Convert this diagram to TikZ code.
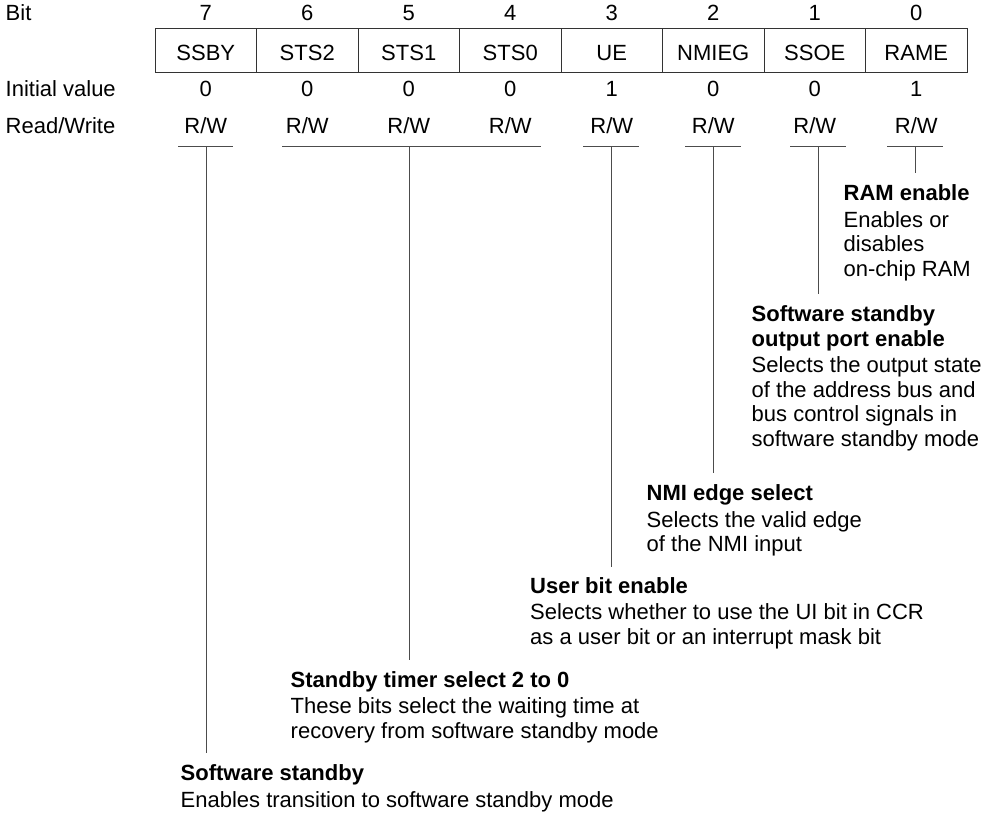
\documentclass[tikz,border=0pt]{standalone}
\usepackage{fontspec}
\setmainfont{Liberation Sans}
\newcommand\regfs{\fontsize{22}{24.5}\selectfont}
\newcommand\descblk[2]{\begin{tabular}[t]{@{}l@{}}#1\\[2pt]#2\end{tabular}}
\tikzset{
  lbl/.style={inner sep=0pt, font=\regfs, anchor=base west},
  num/.style={inner sep=0pt, font=\regfs, anchor=base},
  cell/.style={draw=black!80, line width=1pt, inner sep=0pt, font=\regfs,
    minimum width=101.5pt, minimum height=44pt, text height=20pt, text depth=0pt},
  desc/.style={inner sep=0pt, font=\regfs, anchor=base west},
  ln/.style={draw=black!70, line width=1pt},
}
\begin{document}
\begin{tikzpicture}[x=1pt,y=-1pt]
\useasboundingbox (0,0) rectangle (999,823);
% row labels
\node[lbl] (lbit) at (5.5,20.7) {Bit};
\node[lbl] (linit) at (5.5,96.7) {Initial value};
\node[lbl] (lrw) at (5.5,133.3) {Read/Write};
% register
\foreach \b/\n/\v [count=\k from 0] in {7/SSBY/0,6/STS2/0,5/STS1/0,4/STS0/0,3/UE/1,2/NMIEG/0,1/SSOE/0,0/RAME/1}{
  \pgfmathsetmacro\cx{155+101.5*(\k+0.5)}
  \node[num] (b\b) at (\cx,20.7) {\b};
  \node[cell] (c\b) at (\cx,50) {\n};
  \node[num] (iv\b) at (\cx,96.7) {\v};
  \node[num] (rw\b) at (\cx,133.3) {R/W};
}
% underlines
\coordinate (u7a) at (178,146); \coordinate (u7b) at (233,146);
\coordinate (u5a) at (282,146); \coordinate (u5b) at (541,146);
\coordinate (u3a) at (583,146); \coordinate (u3b) at (639,146);
\coordinate (u2a) at (685,146); \coordinate (u2b) at (741,146);
\coordinate (u1a) at (790,146); \coordinate (u1b) at (846,146);
\coordinate (u0a) at (887,146); \coordinate (u0b) at (943,146);
\foreach \i in {7,5,3,2,1,0}{ \draw[ln] (u\i a) -- (u\i b); }
% connector tops and ends
\coordinate (t7) at (206,146);   \coordinate (e7) at (206,752.7);
\coordinate (t5) at (409.5,146); \coordinate (e5) at (409.5,660);
\coordinate (t3) at (611.7,146); \coordinate (e3) at (611.7,567);
\coordinate (t2) at (713,146);   \coordinate (e2) at (713,472.7);
\coordinate (t1) at (818,146);   \coordinate (e1) at (818,294);
\coordinate (t0) at (915.5,146); \coordinate (e0) at (915.5,173);
\foreach \i in {7,5,3,2,1,0}{ \draw[ln] (t\i) -- (e\i); }
% descriptions
\node[desc] (d0) at (843.5,200.7) {\descblk{\textbf{RAM enable}}{Enables or\\ disables\\ on-chip RAM}};
\node[desc] (d1) at (751.5,321.7) {\begin{tabular}[t]{@{}l@{}}\textbf{Software standby}\\ \textbf{output port enable}\\[2pt] Selects the output state\\ of the address bus and\\ bus control signals in\\ software standby mode\end{tabular}};
\node[desc] (d2) at (646.5,500.7) {\descblk{\textbf{NMI edge select}}{Selects the valid edge\\ of the NMI input}};
\node[desc] (d3) at (530,593.3) {\descblk{\textbf{User bit enable}}{Selects whether to use the UI bit in CCR\\ as a user bit or an interrupt mask bit}};
\node[desc] (d5) at (290.5,687.3) {\descblk{\textbf{Standby timer select 2 to 0}}{These bits select the waiting time at\\ recovery from software standby mode}};
\node[desc] (d7) at (180.5,780.7) {\descblk{\textbf{Software standby}}{Enables transition to software standby mode}};
\end{tikzpicture}
\end{document}
